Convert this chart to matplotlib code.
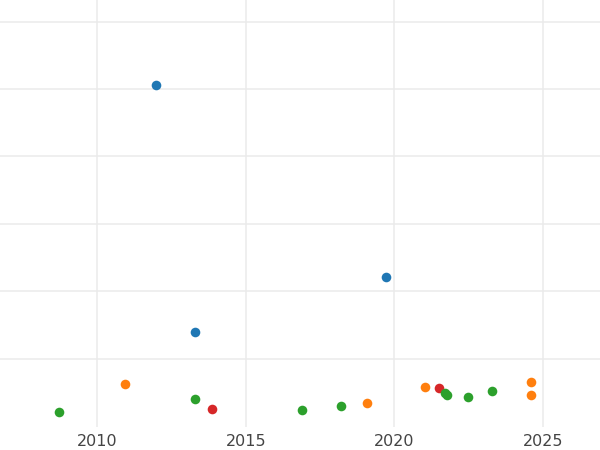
import matplotlib
matplotlib.use('Agg')
import matplotlib.pyplot as plt

# values
blue_x = [2011.98, 2019.72, 2013.30]
blue_y = [5.06, 2.21, 1.40]
orange_x = [2010.94, 2019.08, 2021.03, 2024.59, 2024.59]
orange_y = [0.63, 0.35, 0.59, 0.66, 0.47]
green_x = [2008.72, 2013.30, 2016.89, 2018.20, 2021.70, 2021.75, 2022.47, 2023.28]
green_y = [0.21, 0.41, 0.24, 0.30, 0.50, 0.46, 0.44, 0.53]
red_x = [2013.87, 2021.50]
red_y = [0.26, 0.57]

x_ticks = [2010, 2015, 2020, 2025]
y_grid = [1, 2, 3, 4, 5, 6]

fig = plt.figure(figsize=(6, 4.5), dpi=100)
ax = fig.add_axes([0, 23 / 450, 1, 427 / 450])

for xs, ys, c in [(blue_x, blue_y, '#1f77b4'), (orange_x, orange_y, '#ff7f0e'),
                  (red_x, red_y, '#d62728'), (green_x, green_y, '#2ca02c')]:
    ax.scatter(xs, ys, s=48, color=c, linewidths=0, zorder=3)

ax.set_xlim(2006.74, 2026.91)
ax.set_ylim(-0.01, 6.32)
ax.set_xticks(x_ticks)
ax.set_yticks(y_grid)
ax.set_yticklabels([])
ax.grid(True, color='#ebebeb', linewidth=1.1)
ax.set_axisbelow(True)
ax.tick_params(length=0, labelsize=11.5, labelcolor='#444444', pad=5)
for s in ax.spines.values():
    s.set_visible(False)

fig.savefig('out.png', dpi=100)
